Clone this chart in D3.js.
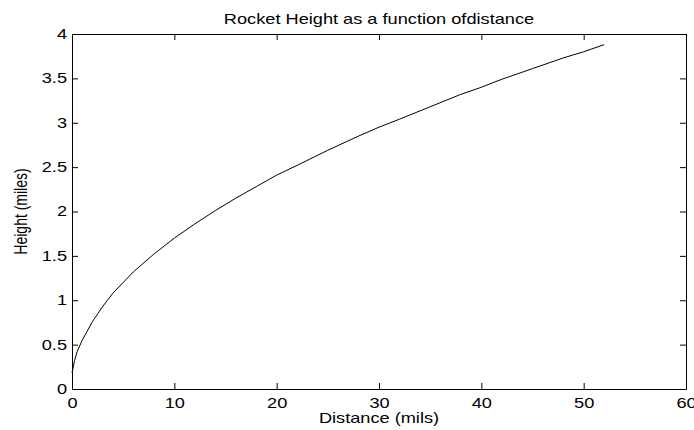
<!DOCTYPE html>
<html>
<head>
<meta charset="utf-8">
<script src="https://cdn.jsdelivr.net/npm/d3@7"></script>
<style>
  body { margin: 0; background: #fff; }
  text { font-family: "Liberation Sans", Arial, sans-serif; fill: #000; }
</style>
</head>
<body>
<svg id="chart" width="694" height="430"></svg>
<script>
// distance (mils) and height (miles)
const distance = [0, 0.25, 0.5, 1, 2, 3, 4, 5, 6, 8, 10, 12, 14, 16, 18, 20, 22, 25, 28, 30, 32, 35, 38, 40, 42, 45, 48, 50, 52];
const height = [0.18, 0.32, 0.42, 0.55, 0.76, 0.93, 1.08, 1.2, 1.32, 1.52, 1.7, 1.86, 2.01, 2.15, 2.28, 2.41, 2.52, 2.69, 2.85, 2.95, 3.04, 3.18, 3.32, 3.4, 3.49, 3.61, 3.73, 3.8, 3.88];
const xTicks = [0, 10, 20, 30, 40, 50, 60];
const yTicks = [0, 0.5, 1, 1.5, 2, 2.5, 3, 3.5, 4];

const svg = d3.select('#chart'),
    m = { left: 72, right: 686, top: 34, bottom: 389 },
    fontSize = 14,
    stretch = 1.3; // the figure is wider than tall, text comes out stretched

const x = d3.scaleLinear().domain([0, 60]).range([m.left, m.right]);
const y = d3.scaleLinear().domain([0, 4]).range([m.bottom, m.top]);

const styleAxis = g => {
    g.selectAll('path, line').attr('stroke', '#000').attr('stroke-width', 1);
    g.selectAll('text').attr('font-size', fontSize).attr('font-family', null);
};

// bottom / left axes with labels, ticks pointing in
svg.append('g').attr('transform', 'translate(0,' + m.bottom + ')')
    .call(d3.axisBottom(x).tickValues(xTicks).tickSizeInner(-6).tickSizeOuter(0).tickPadding(9).tickFormat(d3.format('d')))
    .call(styleAxis)
    .selectAll('text').attr('transform', 'scale(' + stretch + ',1)');
svg.append('g').attr('transform', 'translate(' + m.left + ',0)')
    .call(d3.axisLeft(y).tickValues(yTicks).tickSizeInner(-6).tickSizeOuter(0).tickPadding(5 / stretch).tickFormat(d => String(d)))
    .call(styleAxis)
    .selectAll('text').attr('transform', 'scale(' + stretch + ',1)');
// top / right, ticks only
svg.append('g').attr('transform', 'translate(0,' + m.top + ')')
    .call(d3.axisTop(x).tickValues(xTicks).tickSizeInner(-6).tickSizeOuter(0).tickFormat(''))
    .call(styleAxis);
svg.append('g').attr('transform', 'translate(' + m.right + ',0)')
    .call(d3.axisRight(y).tickValues(yTicks).tickSizeInner(-6).tickSizeOuter(0).tickFormat(''))
    .call(styleAxis);

svg.selectAll('.domain').attr('fill', 'none');

const line = d3.line().x((d, i) => x(distance[i])).y(d => y(d));
svg.append('path')
    .datum(height)
    .attr('fill', 'none')
    .attr('stroke', '#000')
    .attr('stroke-width', 1)
    .attr('d', line);

svg.append('text')
    .attr('transform', 'translate(' + (m.left + m.right) / 2 + ',24) scale(' + stretch + ',1)')
    .attr('text-anchor', 'middle').attr('font-size', fontSize)
    .text('Rocket Height as a function ofdistance');

svg.append('text')
    .attr('transform', 'translate(' + (m.left + m.right) / 2 + ',423) scale(' + stretch + ',1)')
    .attr('text-anchor', 'middle').attr('font-size', fontSize)
    .text('Distance (mils)');

svg.append('text')
    .attr('transform', 'translate(27,' + (m.top + m.bottom) / 2 + ') scale(' + stretch + ',1) rotate(-90)')
    .attr('text-anchor', 'middle').attr('font-size', fontSize)
    .text('Height (miles)');
</script>
</body>
</html>
